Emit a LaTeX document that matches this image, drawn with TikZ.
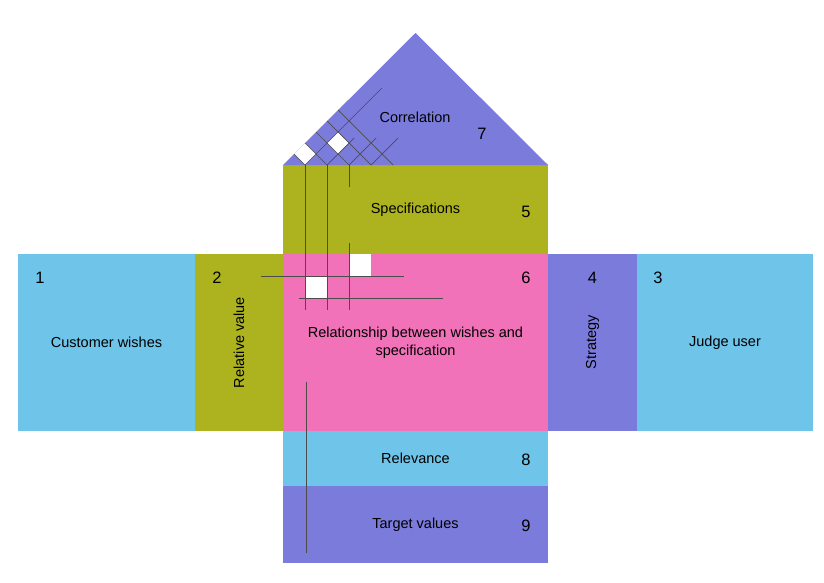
\documentclass[tikz,border=0pt]{standalone}
\usepackage{fontspec}
\setmainfont{Liberation Sans}
\usetikzlibrary{positioning,calc}
\definecolor{hqblue}{RGB}{110,196,233}
\definecolor{hqolive}{RGB}{173,179,31}
\definecolor{hqpink}{RGB}{241,114,185}
\definecolor{hqviolet}{RGB}{123,123,220}
\tikzset{
    block/.style={
        rectangle,
        inner sep=0pt,
        outer sep=0pt,
        align=center,
        font=\fontsize{14.5}{18}\selectfont,
    },
    side/.style={
        block,
        fill=hqblue,
        minimum width=177pt,
        minimum height=177pt,
    },
    column/.style={
        block,
        minimum width=88pt,
        minimum height=177pt,
    },
    wide/.style={
        block,
        minimum width=265pt,
    },
    num/.style={
        inner sep=0pt,
        font=\fontsize{16.5}{16.5}\selectfont,
    },
    lattice/.style={
        draw=black!70,
        line width=0.7pt,
    },
    cell/.style={
        fill=white,
    },
    node distance=0pt,
}
\begin{document}
\begin{tikzpicture}[x=1pt,y=-1pt]
    \useasboundingbox (0,0) rectangle (824,583);

    % Nodes and position definitions
    \node [wide,fill=hqpink,minimum height=177pt] (rel) at (415.5,342.5) {Relationship between wishes and\\specification};
    \node [wide,fill=hqolive,minimum height=89pt] (spec) [above=of rel] {Specifications};
    \node [wide,fill=hqblue,minimum height=55pt] (relev) [below=of rel] {Relevance};
    \node [wide,fill=hqviolet,minimum height=77pt] (target) [below=of relev] {Target values};
    \node [column,fill=hqolive] (relval) [left=of rel] {};
    \node [side] (wish) [left=of relval] {Customer wishes};
    \node [column,fill=hqviolet,minimum width=89pt] (strat) [right=of rel] {};
    \node [side,minimum width=176pt] (judge) [right=of strat] {Judge user};
    \node [block,rotate=90] (relvaltext) at (relval.center) {Relative value};
    \node [block,rotate=90] (strattext) at (strat.center) {Strategy};

    % Roof
    \coordinate (apex) at ($(spec.north)+(0,-132)$);
    \fill [hqviolet] (spec.north west) -- (apex) -- (spec.north east) -- cycle;
    \node [block] (corr) at (415,117) {Correlation};

    % Numbers
    \node [num] (n1) at ($(wish.north west)+(22,24)$) {1};
    \node [num] (n2) at ($(relval.north west)+(22,24)$) {2};
    \node [num] (n3) at ($(judge.north west)+(21,24)$) {3};
    \node [num] (n4) at ($(strat.north)+(0,24)$) {4};
    \node [num] (n5) at ($(spec.east)+(-22,2)$) {5};
    \node [num] (n6) at ($(rel.north east)+(-22,24)$) {6};
    \node [num] (n7) at (482,134) {7};
    \node [num] (n8) at ($(relev.east)+(-22,1)$) {8};
    \node [num] (n9) at ($(target.east)+(-22,1)$) {9};

    % Correlation lattice
    \fill [cell] (305,165) -- (316,154) -- (305,143) -- (294,154) -- cycle;
    \fill [cell] (338,154) -- (349,143) -- (338,132) -- (327,143) -- cycle;
    \foreach \p in {305,327,349,371,393}
        \draw [lattice] (\p,165) -- ({(\p+283)/2},{165-(\p-283)/2});
    \draw [lattice] (305,165) -- (382,88);
    \foreach \p in {327,349,371}
        \draw [lattice] (\p,165) -- (\p+27,138);

    % Matrix lines
    \fill [cell] (306,277) rectangle (327,298);
    \fill [cell] (349,254) rectangle (371,276);
    \draw [lattice] (305,165) -- (305,310);
    \draw [lattice] (327,165) -- (327,310);
    \draw [lattice] (349,165) -- (349,187);
    \draw [lattice] (349,243) -- (349,310);
    \draw [lattice] (261,276) -- (404,276);
    \draw [lattice] (299,298) -- (443,298);
    \draw [lattice] (306,382) -- (306,553);
\end{tikzpicture}
\end{document}
